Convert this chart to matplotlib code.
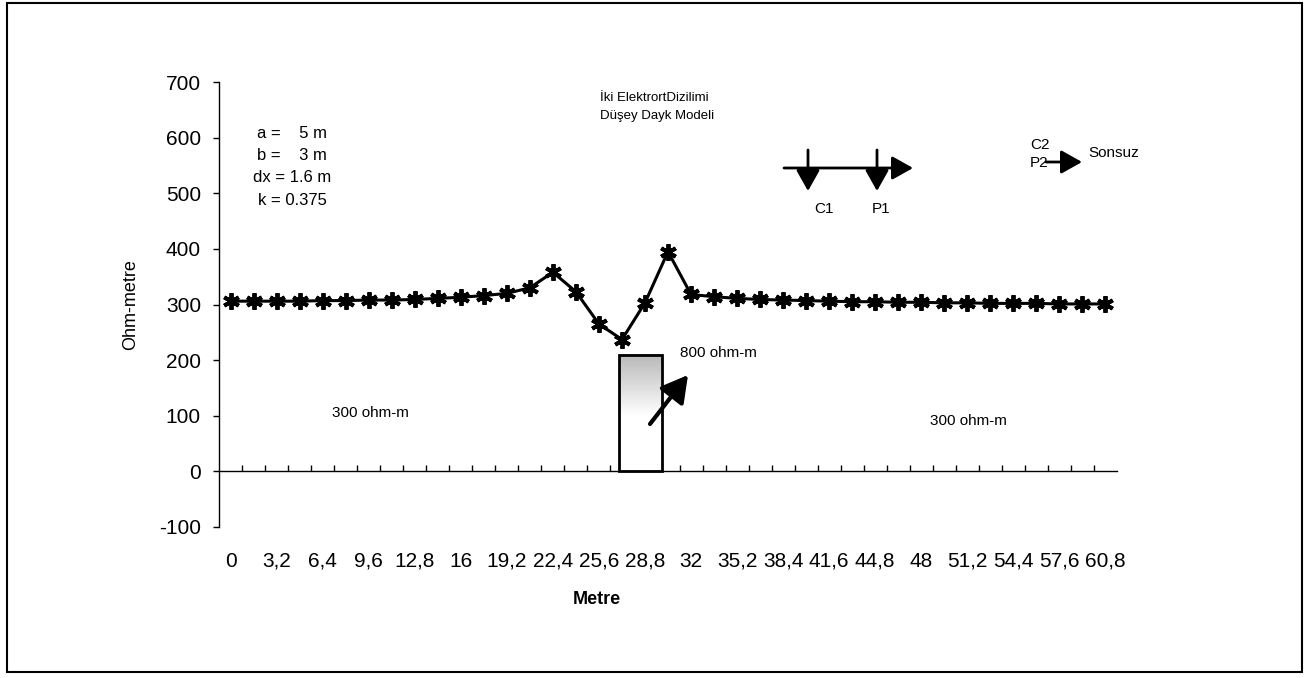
import matplotlib
matplotlib.use("Agg")
import matplotlib.pyplot as plt
import numpy as np
from matplotlib.patches import Rectangle

plt.rcParams["font.family"] = ["Liberation Sans", "DejaVu Sans"]
plt.rcParams["axes.unicode_minus"] = False

W, H, DPI = 1309, 678, 100

# survey geometry
a_m = 5
b_m = 3
dx_m = 1.6
k_val = 0.375

# station positions (m) and apparent resistivity (ohm-m)
stations = [0, 1.6, 3.2, 4.8, 6.4, 8.0, 9.6, 11.2, 12.8, 14.4, 16, 17.6, 19.2,
            20.8, 22.4, 24.0, 25.6, 27.2, 28.8, 30.4, 32, 33.6, 35.2, 36.8,
            38.4, 40.0, 41.6, 43.2, 44.8, 46.4, 48, 49.6, 51.2, 52.8, 54.4,
            56.0, 57.6, 59.2, 60.8]
rho_a = [306, 306, 306, 306, 307, 307, 308, 308, 309, 311, 313, 316, 320,
         330, 358, 323, 265, 237, 303, 395, 318, 314, 311, 309, 308, 307,
         306, 305, 305, 304, 304, 303, 303, 302, 302, 302, 301, 301, 301]

# dyke model
host_rho = 300
dyke_rho = 800
dyke_left_m = 27.0
dyke_width_m = b_m
dyke_top = 210


def px(x, y):
    """figure pixels measured from the top-left corner"""
    return x, H - y


def fpos(x, y):
    """figure fraction from top-left pixel position"""
    return x / W, 1 - y / H


fig = plt.figure(figsize=(W / DPI, H / DPI), dpi=DPI)
fig.patch.set_facecolor("white")

ax = fig.add_axes([219 / W, 1 - 527 / H, (1117 - 219) / W, (527 - 82) / H])
n = len(stations)
xpos = np.arange(n)

ax.plot(xpos, rho_a, color="black", lw=2.2, marker=(6, 2, 0), ms=12, mew=2.8,
        zorder=5)

# dyke body with fading fill
l = dyke_left_m / dx_m
r = (dyke_left_m + dyke_width_m) / dx_m
grad = np.clip(np.linspace(0.72, 1.25, 200).reshape(-1, 1), 0, 1)
ax.imshow(grad, extent=[l, r, 0, dyke_top], cmap="gray", vmin=0, vmax=1,
          aspect="auto", origin="upper", zorder=2, interpolation="bilinear")
ax.add_patch(Rectangle((l, 0), r - l, dyke_top, fill=False, lw=2,
                       edgecolor="black", zorder=3))

ax.set_xlim(-0.5, n - 0.5)
ax.set_ylim(-100, 700)

for side in ("top", "right"):
    ax.spines[side].set_visible(False)
ax.spines["bottom"].set_position(("data", 0))
ax.spines["bottom"].set_linewidth(1)
ax.spines["left"].set_linewidth(1)

ax.set_yticks(range(-100, 701, 100))
ax.tick_params(axis="y", direction="out", length=4, width=1, labelsize=15,
               pad=9)

ax.set_xticks(xpos[::2])
ax.set_xticklabels([f"{v:g}".replace(".", ",") for v in stations[::2]])
ax.set_xticks(np.arange(0.5, n - 0.5, 1), minor=True)
ax.tick_params(axis="x", which="major", length=0, labelsize=15, pad=58)
ax.tick_params(axis="x", which="minor", direction="in", length=4, width=1)

ax.set_ylabel("Ohm-metre", fontsize=13)
ax.yaxis.set_label_coords(-0.089, 0.5)
ax.set_xlabel("Metre", fontsize=13, fontweight="bold")
ax.xaxis.set_label_coords(0.421, -0.144)

# model annotations
ax.text(4.4, 105, f"{host_rho} ohm-m", fontsize=11, va="center")
ax.text(30.4, 90, f"{host_rho} ohm-m", fontsize=11, va="center")
fig.text(*fpos(680, 353), f"{dyke_rho} ohm-m", fontsize=11, va="center")
ax.annotate("", xy=px(688, 375), xytext=px(650, 424),
            xycoords="figure pixels", textcoords="figure pixels",
            arrowprops=dict(arrowstyle="-|>,head_length=0.8,head_width=0.45",
                            lw=3, color="black", mutation_scale=20,
                            shrinkA=0, shrinkB=0))

# title lines
fig.text(*fpos(600, 98), "İki ElektrortDizilimi", fontsize=9.5, va="center")
fig.text(*fpos(600, 116), "Düşey Dayk Modeli", fontsize=9.5, va="center")

# parameter block
params = [f"a =    {a_m} m", f"b =    {b_m} m", f"dx = {dx_m} m",
          f"k = {k_val}"]
for i, s in enumerate(params):
    fig.text(*fpos(292, 133 + 22.5 * i), s, fontsize=12,
             ha="center", va="center")

# electrode layout sketch
arrow_kw = dict(arrowstyle="-|>,head_length=0.8,head_width=0.45", lw=2,
                color="black", mutation_scale=16, shrinkA=0, shrinkB=0)
ax.annotate("", xy=px(913, 168), xytext=px(784, 168),
            xycoords="figure pixels", textcoords="figure pixels",
            arrowprops=arrow_kw)
for xe in (808, 877):
    ax.annotate("", xy=px(xe, 191), xytext=px(xe, 150),
                xycoords="figure pixels", textcoords="figure pixels",
                arrowprops=arrow_kw)
fig.text(*fpos(814, 209), "C1", fontsize=11, va="center")
fig.text(*fpos(872, 209), "P1", fontsize=11, va="center")
fig.text(*fpos(1030, 145), "C2", fontsize=11, va="center")
fig.text(*fpos(1030, 163), "P2", fontsize=11, va="center")
ax.annotate("", xy=px(1082, 162), xytext=px(1046, 162),
            xycoords="figure pixels", textcoords="figure pixels",
            arrowprops=arrow_kw)
fig.text(*fpos(1088, 153), "Sonsuz", fontsize=11, va="center")

# outer frame
fig.add_artist(Rectangle((7 / W, 1 - 672 / H), (1302 - 7) / W, (672 - 3) / H,
                         transform=fig.transFigure, fill=False, lw=1.5,
                         edgecolor="black"))

fig.savefig("out.png", dpi=DPI)
